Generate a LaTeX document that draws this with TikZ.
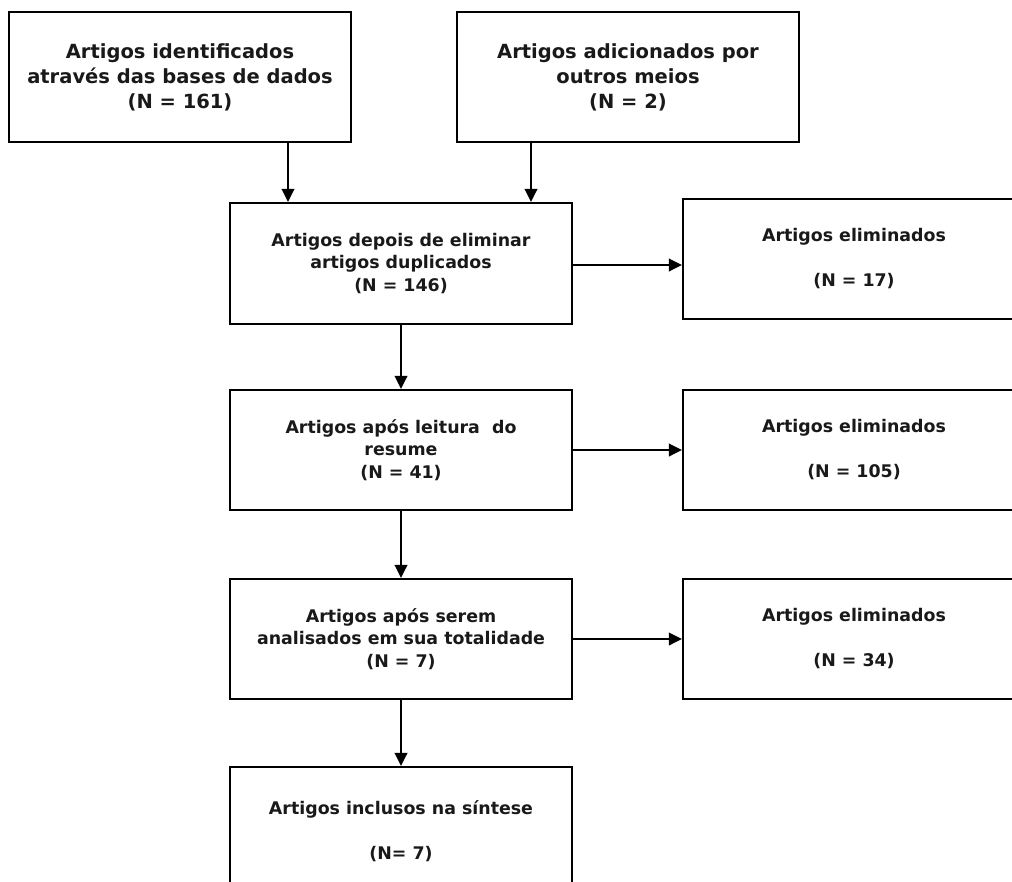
\documentclass[tikz,border=0pt]{standalone}
\usepackage{fontspec}
\setmainfont{DejaVu Sans}
\usetikzlibrary{arrows.meta}
\begin{document}
\begin{tikzpicture}[x=1pt,y=-1pt,
  box/.style={draw, line width=2.1pt, minimum width=342pt, align=center,
    inner sep=0pt, text=black!90,
    font=\bfseries\fontsize{17.4}{22.5}\selectfont},
  topbox/.style={box, minimum height=130pt,
    font=\bfseries\fontsize{19.5}{25}\selectfont},
  midbox/.style={box, minimum height=120pt},
  arr/.style={line width=2pt, -{Triangle[length=13pt,width=12.5pt]}}]
\useasboundingbox (0,0) rectangle (1012,881);
\clip (0,0) rectangle (1012,881);

% sources
\node[topbox] (src1) at (180,77) {Artigos identificados\\através das bases de dados\\(N = 161)};
\node[topbox] (src2) at (628,77) {Artigos adicionados por\\outros meios\\(N = 2)};

% main column
\node[midbox, minimum height=121pt] (dup) at (401,263.5) {Artigos depois de eliminar\\artigos duplicados\\(N = 146)};
\node[midbox] (abs) at (401,450) {Artigos após leitura \ do\\resume\\(N = 41)};
\node[midbox] (full) at (401,639) {Artigos após serem\\analisados em sua totalidade\\(N = 7)};
\node[midbox, minimum height=128pt] (syn) at (401,831) {Artigos inclusos na síntese\\[22.5pt](N= 7)};

% exclusions
\node[midbox] (ex1) at (854,259) {Artigos eliminados\\[22.5pt](N = 17)};
\node[midbox] (ex2) at (854,450) {Artigos eliminados\\[22.5pt](N = 105)};
\node[midbox] (ex3) at (854,639) {Artigos eliminados\\[22.5pt](N = 34)};

% connectors
\draw[arr] ([xshift=108pt]src1.south) -- ([xshift=108pt]src1.south |- dup.north);
\draw[arr] ([xshift=-97pt]src2.south) -- ([xshift=-97pt]src2.south |- dup.north);
\draw[arr] (dup.south) -- (abs.north);
\draw[arr] (abs.south) -- (full.north);
\draw[arr] (full.south) -- (syn.north);
\draw[arr] ([yshift=-1.5pt]dup.east) -- ([yshift=-1.5pt]dup.east -| ex1.west);
\draw[arr] (abs.east) -- (ex2.west);
\draw[arr] (full.east) -- (ex3.west);
\end{tikzpicture}
\end{document}
